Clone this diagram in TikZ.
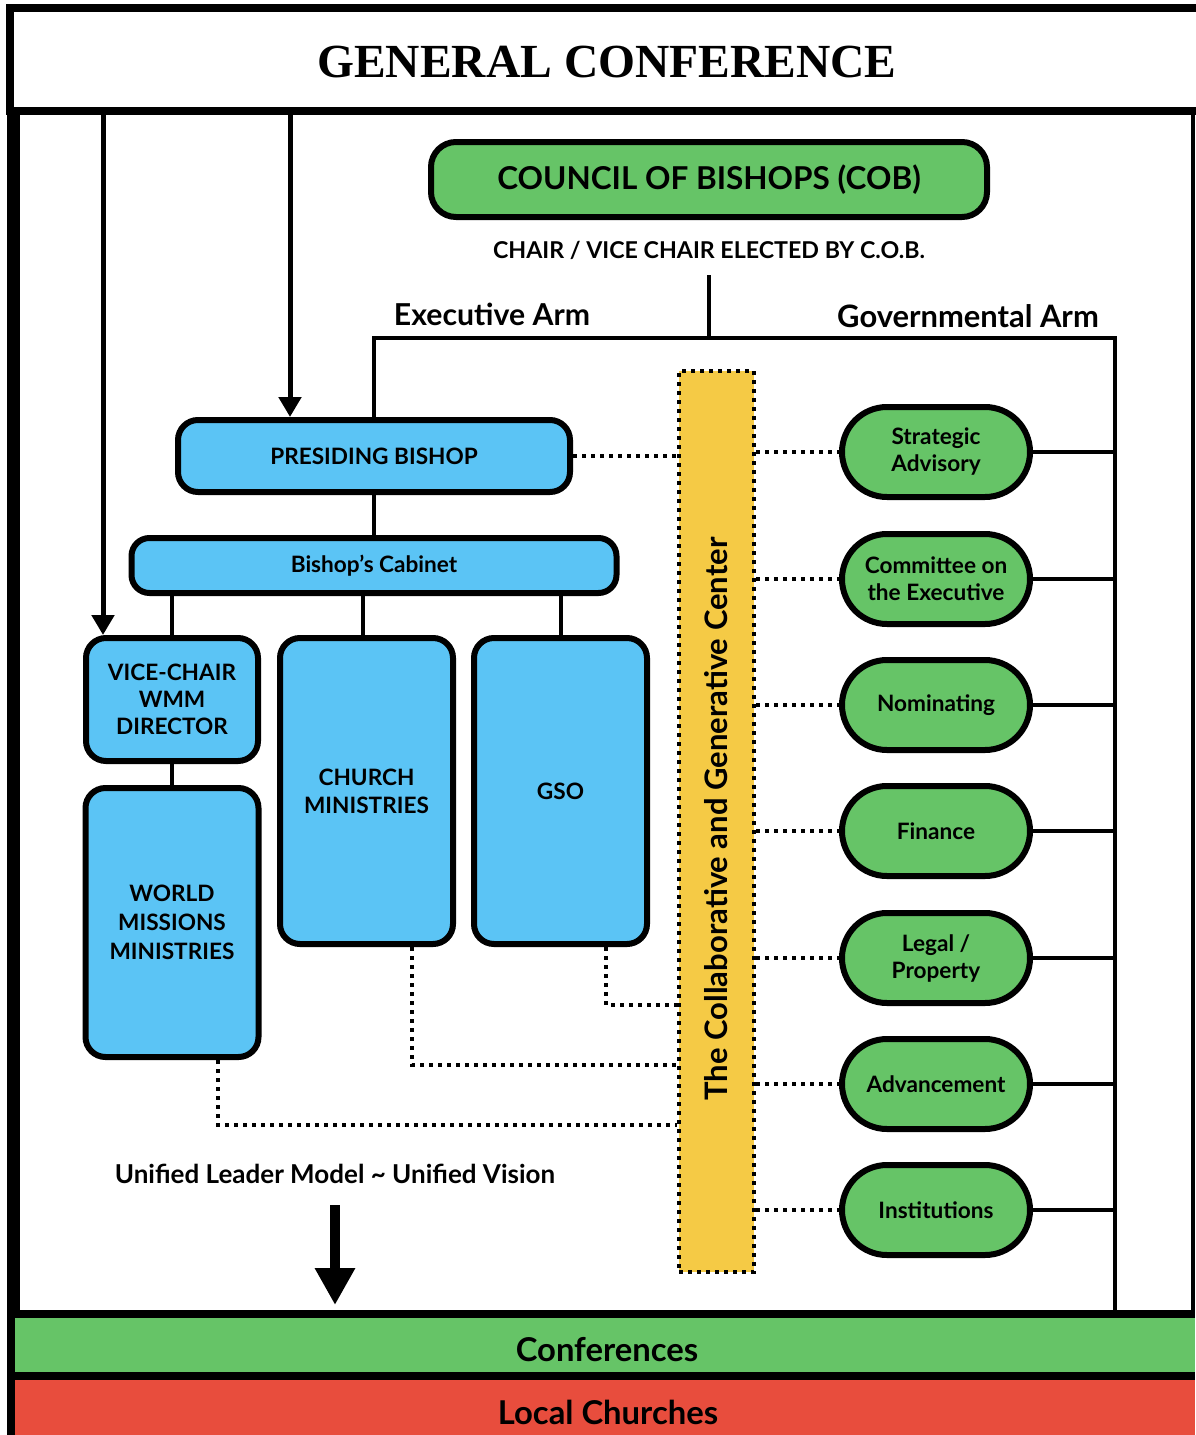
\documentclass[tikz,border=0pt]{standalone}
\usepackage{fontspec}
\setmainfont{Lato}
\newfontfamily\headfont{Liberation Serif}
\usetikzlibrary{arrows.meta}
\definecolor{cgreen}{HTML}{66C467}
\definecolor{cblue}{HTML}{5BC4F5}
\definecolor{cyellow}{HTML}{F5CA45}
\definecolor{cred}{HTML}{E84D3D}
\begin{document}
\begin{tikzpicture}[x=1pt,y=-1pt,
  conn/.style={line width=4pt},
  dotline/.style={line width=4pt, dash pattern=on 4pt off 5pt},
  bbox/.style={draw, line width=6pt, fill=cblue, rounded corners=20pt, align=center,
     font=\fontsize{22.6}{27}\selectfont\bfseries, inner sep=0pt},
  gnode/.style={draw, line width=6pt, fill=cgreen, rounded corners=45pt,
     minimum width=188pt, minimum height=90pt, align=center,
     font=\fontsize{22.6}{27}\selectfont\bfseries, inner sep=0pt},
  lbl/.style={inner sep=0pt, font=\bfseries},
  band/.style={inner sep=0pt, minimum width=1180pt},
  bandtext/.style={inner sep=0pt, font=\fontsize{32.8}{36}\selectfont\bfseries},
  tipA/.style={-{Triangle[width=22pt,length=20pt]}}
]
\useasboundingbox (0,0) rectangle (1195,1435);
\fill[white] (0,0) rectangle (1195,1435);

% frame
\fill (7,111) rectangle (20,1318);
\fill (1191,111) rectangle (1195,1318);
\fill (7,1310) rectangle (1195,1435);
\node[band, fill=cgreen, minimum height=54pt] (conf) at (605,1345) {};
\node[bandtext] at (607,1350) {Conferences};
\node[band, fill=cred, minimum height=56pt] (lc) at (605,1408) {};
\node[bandtext] at (608,1412) {Local Churches};
\node[draw, line width=8pt, fill=white, inner sep=0pt, minimum width=1190pt, minimum height=103.5pt] (gc) at (605,59.25) {};
\node[inner sep=0pt, font=\headfont\fontsize{47.5}{54}\selectfont\bfseries] (gct) at (607,62) {GENERAL CONFERENCE};

% council of bishops
\node[draw, line width=6pt, fill=cgreen, rounded corners=25pt, minimum width=556pt, minimum height=75pt,
      inner sep=0pt, font=\fontsize{31.5}{36}\selectfont\bfseries] (cob) at (709,179.5) {COUNCIL OF BISHOPS (COB)};
\node[lbl, font=\fontsize{23.2}{27}\selectfont\bfseries] (chair) at (709,250) {CHAIR / VICE CHAIR ELECTED BY C.O.B.};
\node[lbl, font=\fontsize{30.2}{34}\selectfont\bfseries] (exec) at (492,314) {Executive Arm};
\node[lbl, font=\fontsize{30.9}{34}\selectfont\bfseries] (gov) at (968,316) {Governmental Arm};

% yellow center
\node[draw, dotline, fill=cyellow, minimum width=75pt, minimum height=901pt, inner sep=0pt] (yc) at (716.5,821.5) {};
\node[rotate=90, inner sep=0pt, font=\fontsize{31}{34}\selectfont\bfseries] (yct) at (716,819) {The Collaborative and Generative Center};

% executive boxes
\node[bbox, minimum width=392pt, minimum height=72pt] (pb) at (374,456) {PRESIDING BISHOP};
\node[bbox, rounded corners=18pt, minimum width=485pt, minimum height=55pt] (cab) at (374,565.5) {Bishop’s Cabinet};
\node[bbox, minimum width=172pt, minimum height=123pt] (vc) at (172,699.5) {VICE-CHAIR\\WMM\\DIRECTOR};
\node[bbox, minimum width=173pt, minimum height=269pt, font=\fontsize{22.6}{29}\selectfont\bfseries] (wmm) at (172,922.5) {WORLD\\MISSIONS\\MINISTRIES};
\node[bbox, minimum width=173pt, minimum height=306pt, font=\fontsize{22.6}{28}\selectfont\bfseries] (cm) at (366.5,791) {CHURCH\\MINISTRIES};
\node[bbox, minimum width=173pt, minimum height=306pt] (gso) at (560.5,791) {GSO};

% governmental nodes
\node[gnode] (g1) at (936,452) {Strategic\\Advisory};
\node[gnode] (g2) at (936,579) {Committee on\\the Executive};
\node[gnode] (g3) at (936,705) {Nominating};
\node[gnode] (g4) at (936,831) {Finance};
\node[gnode] (g5) at (936,958) {Legal /\\Property};
\node[gnode] (g6) at (936,1084) {Advancement};
\node[gnode] (g7) at (936,1210) {Institutions};

\node[lbl, font=\fontsize{26}{30}\selectfont\bfseries] (ul) at (335,1174) {Unified Leader Model \textasciitilde{} Unified Vision};

\coordinate (gjoin) at (709,338);
\coordinate (gbot) at (1115,1312);
\coordinate (ua) at (335,1205);
\coordinate (ub) at (335,1305);

% solid connectors
\draw[conn] (chair.south) ++(0,16) -- (gjoin);
\draw[conn] (pb.north) |- (gjoin) -| (gbot);
\foreach \g in {g1,g2,g3,g4,g5,g6,g7} {\draw[conn] (\g.east) -- (\g.east -| gbot);}
\draw[conn] (pb.south) -- (cab.north);
\draw[conn] (cab.south -| vc.north) -- (vc.north);
\draw[conn] (363,0 |- cab.south) -- (363,0 |- cm.north);
\draw[conn] (cab.south -| gso.north) -- (gso.north);
\draw[conn] (vc.south) -- (wmm.north);

% arrows from general conference
\draw[line width=5pt, tipA] (103,0 |- gc.south) -- (103,0 |- vc.north);
\draw[line width=5pt, tipA] (290,0 |- gc.south) -- (290,0 |- pb.north);
\draw[line width=10pt, -{Triangle[width=38pt,length=37pt]}] (ua) -- (ub);

% dotted connectors
\draw[dotline] (pb.east) -- (pb.east -| yc.west);
\foreach \g in {g1,g2,g3,g4,g5,g6,g7} {\draw[dotline] (yc.east |- \g.west) -- (\g.west);}
\draw[dotline] (606,0 |- gso.south) |- (yc.west |- 0,1005);
\draw[dotline] (412,0 |- cm.south) |- (yc.west |- 0,1065);
\draw[dotline] (218,0 |- wmm.south) |- (yc.west |- 0,1125);
\end{tikzpicture}
\end{document}
